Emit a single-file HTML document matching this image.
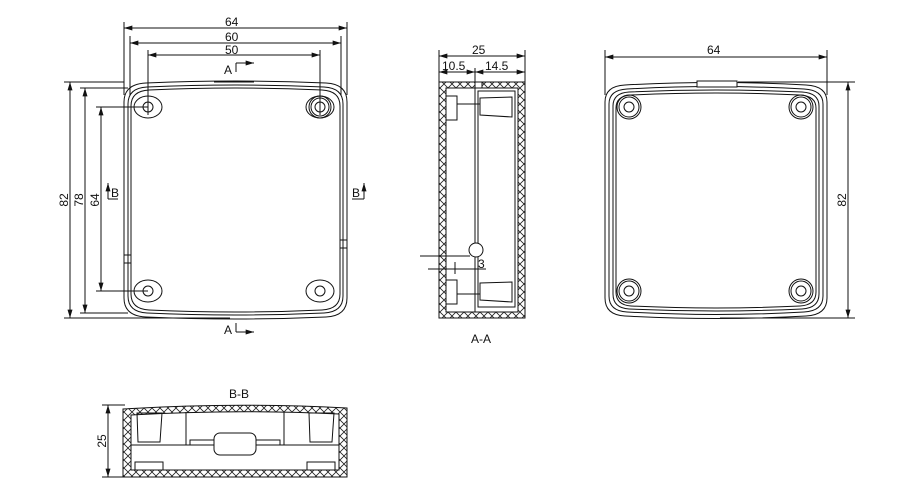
<!DOCTYPE html>
<html><head><meta charset="utf-8"><style>
html,body{margin:0;padding:0;background:#fff;}
svg{display:block}
text{font-family:"Liberation Sans",sans-serif;font-size:12px;fill:#111}
</style></head><body>
<svg width="900" height="500" viewBox="0 0 900 500" xmlns="http://www.w3.org/2000/svg">
<defs>
<marker id="ar" viewBox="0 0 10 6" refX="10" refY="3" markerWidth="9" markerHeight="5" orient="auto-start-reverse"><path d="M0,0L10,3L0,6z" fill="#111"/></marker>
<pattern id="hx" width="8" height="8" patternUnits="userSpaceOnUse"><path d="M0,0L8,8M8,0L0,8" stroke="#222" stroke-width="0.8"/></pattern>
</defs>
<g stroke="#111" fill="none" stroke-width="1">
<!-- LEFT VIEW -->
<line x1="124" y1="22" x2="124" y2="95"/><line x1="347" y1="22" x2="347" y2="95"/>
<line x1="124" y1="28" x2="347" y2="28" marker-start="url(#ar)" marker-end="url(#ar)"/>
<line x1="130" y1="36" x2="130" y2="95"/><line x1="341" y1="36" x2="341" y2="95"/>
<line x1="130" y1="43" x2="341" y2="43" marker-start="url(#ar)" marker-end="url(#ar)"/>
<line x1="148" y1="50" x2="148" y2="115"/><line x1="320" y1="50" x2="320" y2="115"/>
<line x1="148" y1="55" x2="320" y2="55" marker-start="url(#ar)" marker-end="url(#ar)"/>
<path d="M124,102 Q124,84 146,83 Q236,79 326,83 Q347,84 347,102 L347,298 Q347,316 326,317 Q236,321 146,317 Q124,316 124,298 Z"/>
<path d="M128,104 Q128,88 147,87 Q236,83 324,87 Q343,88 343,104 L343,296 Q343,312 324,313 Q236,317 147,313 Q128,312 128,296 Z"/>
<path d="M131,106 Q131,91 149,90 Q236,86 322,90 Q340,91 340,106 L340,294 Q340,309 322,310 Q236,314 149,310 Q131,309 131,294 Z"/>
<rect x="124" y="255" width="7" height="8"/><rect x="340" y="240" width="7" height="8"/>
<line x1="214" y1="82" x2="254" y2="82"/>
<g>
<ellipse cx="148" cy="107" rx="14" ry="11"/><circle cx="148" cy="107" r="5"/>
<ellipse cx="320" cy="107" rx="14" ry="11"/><circle cx="320" cy="107" r="5"/><circle cx="320" cy="107" r="9"/><circle cx="320" cy="107" r="11"/>
<ellipse cx="148" cy="291" rx="14" ry="11"/><circle cx="148" cy="291" r="5"/>
<ellipse cx="320" cy="291" rx="14" ry="11"/><circle cx="320" cy="291" r="5"/>
</g>
<line x1="64" y1="82" x2="124" y2="82"/><line x1="64" y1="318" x2="230" y2="318"/>
<line x1="70" y1="82" x2="70" y2="318" marker-start="url(#ar)" marker-end="url(#ar)"/>
<line x1="80" y1="88" x2="128" y2="88"/><line x1="80" y1="313" x2="128" y2="313"/>
<line x1="85" y1="88" x2="85" y2="313" marker-start="url(#ar)" marker-end="url(#ar)"/>
<line x1="96" y1="107" x2="148" y2="107"/><line x1="96" y1="291" x2="148" y2="291"/>
<line x1="101" y1="107" x2="101" y2="291" marker-start="url(#ar)" marker-end="url(#ar)"/>
<polyline points="236,72 236,63"/><line x1="236" y1="63" x2="254" y2="63" marker-end="url(#ar)"/>
<polyline points="236,323 236,332"/><line x1="236" y1="332" x2="254" y2="332" marker-end="url(#ar)"/>
<polyline points="118,199 108,199"/><line x1="108" y1="199" x2="108" y2="183" marker-end="url(#ar)"/>
<polyline points="352,199 364,199"/><line x1="364" y1="199" x2="364" y2="183" marker-end="url(#ar)"/>
<!-- MIDDLE A-A -->
<line x1="439" y1="50" x2="439" y2="82"/><line x1="525" y1="50" x2="525" y2="82"/>
<line x1="439" y1="56" x2="525" y2="56" marker-start="url(#ar)" marker-end="url(#ar)"/>
<line x1="439" y1="72" x2="475" y2="72" marker-start="url(#ar)" marker-end="url(#ar)"/>
<line x1="475" y1="72" x2="525" y2="72" marker-start="url(#ar)" marker-end="url(#ar)"/>
<line x1="475" y1="68" x2="475" y2="82"/>
<rect x="439" y="82" width="86" height="236" fill="url(#hx)"/>
<rect x="446" y="88" width="72" height="224" fill="#fff"/>
<rect x="475" y="82" width="7" height="6" fill="#fff"/>
<line x1="475" y1="88" x2="475" y2="312"/>
<rect x="478" y="91" width="37" height="216"/>
<rect x="446" y="96" width="11" height="24" fill="#fff"/><rect x="446" y="280" width="11" height="24" fill="#fff"/>
<line x1="457" y1="104" x2="480" y2="104"/><line x1="457" y1="294" x2="480" y2="294"/>
<path d="M480,98 L512,97 L512,117 L480,115 Z"/><path d="M480,283 L512,282 L512,302 L480,300 Z"/>
<circle cx="476" cy="250" r="7" fill="#fff"/>
<line x1="420" y1="256" x2="470" y2="256"/><line x1="428" y1="269" x2="486" y2="269"/>
<line x1="455" y1="262" x2="455" y2="274"/>
<!-- RIGHT VIEW -->
<line x1="605" y1="50" x2="605" y2="95"/><line x1="827" y1="50" x2="827" y2="95"/>
<line x1="605" y1="57" x2="827" y2="57" marker-start="url(#ar)" marker-end="url(#ar)"/>
<line x1="738" y1="82" x2="855" y2="82"/><line x1="720" y1="318" x2="855" y2="318"/>
<line x1="848" y1="82" x2="848" y2="318" marker-start="url(#ar)" marker-end="url(#ar)"/>
<path d="M605,102 Q605,86 625,85 Q716,80 806,85 Q827,86 827,102 L827,298 Q827,315 806,316 Q716,321 625,316 Q605,315 605,298 Z"/>
<path d="M609,104 Q609,90 627,89 Q716,84 804,89 Q823,90 823,104 L823,296 Q823,311 804,312 Q716,317 627,312 Q609,311 609,296 Z"/>
<path d="M613,106 Q613,93 629,92 Q716,88 802,92 Q819,93 819,106 L819,294 Q819,308 802,309 Q716,313 629,309 Q613,308 613,294 Z"/>
<path d="M616,108 Q616,96 631,95 Q716,91 800,95 Q816,96 816,108 L816,292 Q816,305 800,306 Q716,310 631,306 Q616,305 616,292 Z"/>
<rect x="697" y="81" width="40" height="6" fill="#fff"/>
<g>
<circle cx="629" cy="107" r="12"/><circle cx="629" cy="107" r="10"/><circle cx="629" cy="107" r="5"/>
<circle cx="801" cy="107" r="12"/><circle cx="801" cy="107" r="10"/><circle cx="801" cy="107" r="5"/>
<circle cx="629" cy="291" r="12"/><circle cx="629" cy="291" r="10"/><circle cx="629" cy="291" r="5"/>
<circle cx="801" cy="291" r="12"/><circle cx="801" cy="291" r="10"/><circle cx="801" cy="291" r="5"/>
</g>
<!-- BOTTOM B-B -->
<line x1="102" y1="405" x2="125" y2="405"/><line x1="102" y1="477" x2="125" y2="477"/>
<line x1="108" y1="405" x2="108" y2="477" marker-start="url(#ar)" marker-end="url(#ar)"/>
<path d="M123,409 Q236,402 347,408 L347,477 L123,477 Z" fill="url(#hx)"/>
<path d="M131,415 Q236,409 339,414 L339,470 L131,470 Z" fill="#fff"/>
<line x1="131" y1="445" x2="339" y2="445"/>
<path d="M137,413 L162,413 L160,442 L138,442 Z"/><path d="M309,413 L334,413 L332,442 L310,442 Z"/>
<line x1="186" y1="412" x2="186" y2="445"/><line x1="284" y1="412" x2="284" y2="445"/>
<polyline points="190,445 190,440 222,440"/><polyline points="280,445 280,440 254,440"/>
<rect x="214" y="433" width="42" height="22" rx="6" fill="#fff"/>
<rect x="135" y="462" width="28" height="8"/><rect x="307" y="462" width="28" height="8"/>
</g>
<text x="225" y="26">64</text><text x="225" y="41">60</text><text x="225" y="54">50</text>
<text x="224" y="74">A</text><text x="224" y="334">A</text>
<text x="111" y="197" font-size="10">B</text><text x="352" y="197" font-size="10">B</text>
<text transform="translate(68,200) rotate(-90)" text-anchor="middle">82</text>
<text transform="translate(83,200) rotate(-90)" text-anchor="middle">78</text>
<text transform="translate(99,200) rotate(-90)" text-anchor="middle">64</text>
<text x="472" y="54">25</text><text x="442" y="70">10.5</text><text x="485" y="70">14.5</text>
<text x="478" y="268">3</text><text x="471" y="343" font-size="10">A-A</text>
<text x="707" y="54">64</text>
<text transform="translate(846,200) rotate(-90)" text-anchor="middle">82</text>
<text x="229" y="398" font-size="10">B-B</text>
<text transform="translate(106,441) rotate(-90)" text-anchor="middle">25</text>
</svg>
</body></html>
